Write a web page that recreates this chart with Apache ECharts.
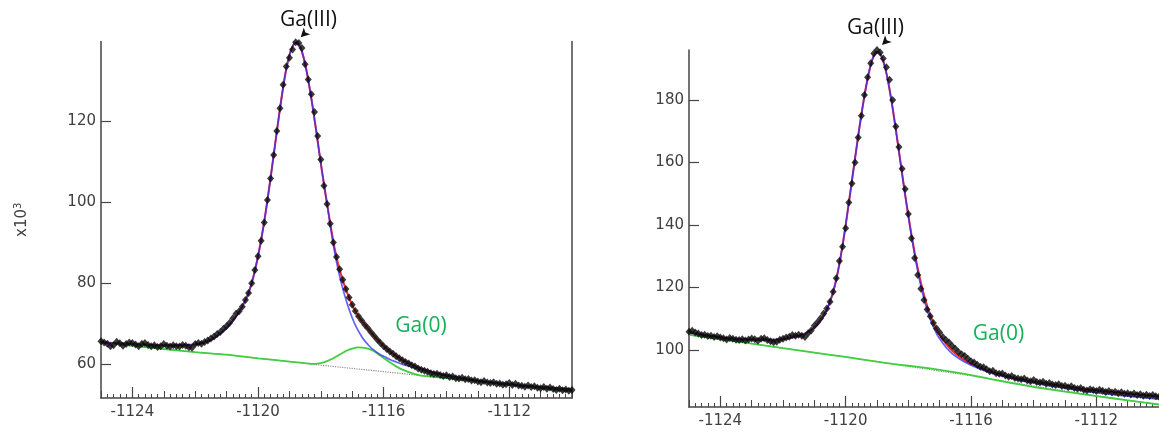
<!DOCTYPE html>
<html>
<head>
<meta charset="utf-8">
<title>Ga 2p3/2 XPS</title>
<script src="https://cdn.jsdelivr.net/npm/echarts@6/dist/echarts.min.js"></script>
<style>
  html, body { margin: 0; padding: 0; background: #fff; }
  #chart { width: 1159px; height: 434px; }
</style>
</head>
<body>
<div id="chart"></div>
<script>
// Binding-energy sampling of the measured spectra (eV)
const energyStart = -1125;
const energyStep = 0.1;

// Axis ticks and ranges
const energyLabels = [-1124, -1120, -1116, -1112];
const leftYTicks = [60, 80, 100, 120];
const rightYTicks = [100, 120, 140, 160, 180];

// ---- Left panel: measured counts (x10^3), one per 0.1 eV step ----
const leftCounts = [
  65.6, 65.3, 65.0, 64.4, 64.6, 65.5, 65.1, 64.5, 64.9, 65.3,
  65.2, 64.8, 64.4, 65.0, 65.2, 64.7, 64.4, 64.6, 64.2, 64.4,
  64.9, 64.5, 64.3, 64.6, 64.4, 64.3, 64.7, 64.5, 64.1, 64.0,
  64.9, 65.2, 65.0, 65.4, 65.8, 66.3, 66.8, 67.4, 67.9, 68.7,
  69.4, 70.2, 71.3, 72.4, 73.0, 74.1, 75.8, 77.5, 79.9, 83.2,
  86.6, 90.4, 94.9, 100.5, 105.8, 111.6, 117.5, 123.1, 128.9, 133.4,
  135.6, 137.6, 139.4, 139.2, 138.0, 134.0, 130.2, 126.6, 122.2, 116.3,
  110.5, 104.0, 99.5, 94.6, 90.0, 86.4, 83.4, 80.8, 78.5, 76.4,
  74.6, 73.1, 71.8, 70.7, 69.7, 68.8, 67.8, 66.9, 66.0, 65.2,
  64.4, 63.7, 63.1, 62.5, 61.9, 61.4, 60.9, 60.5, 60.1, 59.7,
  59.4, 58.9, 58.6, 58.3, 58.1, 57.7, 57.5, 57.6, 57.3, 57.0,
  57.2, 56.8, 56.9, 56.5, 56.4, 56.6, 56.2, 56.3, 55.9, 56.0,
  55.7, 55.5, 55.8, 55.4, 55.3, 55.5, 55.1, 55.2, 54.9, 55.0,
  55.3, 54.8, 55.1, 54.7, 54.6, 54.4, 54.7, 54.3, 54.5, 54.1,
  54.0, 54.3, 53.9, 54.2, 53.8, 53.6, 53.9, 53.5, 53.7, 53.4,
  53.6
];

// Fit shared by the envelope and the Ga(III) component up to the main peak
const leftFitShared = [
  [-1125, 65.4], [-1124.5, 65.1], [-1124, 64.9], [-1123.5, 64.7], [-1123, 64.6],
  [-1122.5, 64.6], [-1122, 64.8], [-1121.8, 65.1], [-1121.6, 65.6], [-1121.4, 66.4],
  [-1121.2, 67.5], [-1121.0, 68.9], [-1120.8, 70.7], [-1120.6, 72.9], [-1120.4, 75.7],
  [-1120.3, 77.6], [-1120.2, 80.0], [-1120.1, 83.0], [-1120.0, 86.6], [-1119.9, 90.6],
  [-1119.8, 95.2], [-1119.7, 100.4], [-1119.6, 105.9], [-1119.5, 111.6], [-1119.4, 117.4],
  [-1119.3, 123.0], [-1119.2, 128.3], [-1119.1, 132.8], [-1119.0, 136.2], [-1118.9, 138.4],
  [-1118.8, 139.3], [-1118.7, 138.9], [-1118.6, 137.1], [-1118.5, 134.1], [-1118.4, 130.1],
  [-1118.3, 125.5], [-1118.2, 120.4], [-1118.1, 115.0], [-1118.0, 109.6], [-1117.9, 104.4],
  [-1117.8, 99.5]
];
// Envelope (sum of components) on the high-energy side
const leftEnvelopeTail = [
  [-1117.7, 94.7], [-1117.6, 90.2], [-1117.5, 86.4], [-1117.4, 83.3], [-1117.3, 80.7],
  [-1117.2, 78.4], [-1117.1, 76.4], [-1117.0, 74.6], [-1116.9, 73.1], [-1116.8, 71.8],
  [-1116.7, 70.7], [-1116.6, 69.7], [-1116.5, 68.7], [-1116.4, 67.8], [-1116.3, 66.9],
  [-1116.2, 66.0], [-1116.1, 65.2], [-1116.0, 64.5], [-1115.8, 63.1], [-1115.6, 62.0],
  [-1115.4, 61.0], [-1115.2, 60.2], [-1115.0, 59.5], [-1114.8, 58.9], [-1114.6, 58.4],
  [-1114.4, 57.9], [-1114.2, 57.5], [-1114.0, 57.2], [-1113.5, 56.5], [-1113.0, 55.9],
  [-1112.5, 55.4], [-1112.0, 55.0], [-1111.5, 54.6], [-1111.0, 54.3], [-1110.5, 54.0],
  [-1110.0, 53.7]
];
// Ga(III) component on the high-energy side
const leftGa3Tail = [
  [-1117.7, 94.3], [-1117.6, 89.4], [-1117.5, 85.2], [-1117.4, 81.7], [-1117.3, 78.6],
  [-1117.2, 75.9], [-1117.1, 73.5], [-1117.0, 71.4], [-1116.9, 69.6], [-1116.8, 68.1],
  [-1116.7, 66.8], [-1116.6, 65.7], [-1116.5, 64.8], [-1116.4, 64.0], [-1116.3, 63.4],
  [-1116.2, 62.8], [-1116.1, 62.3], [-1116.0, 61.9], [-1115.8, 61.1], [-1115.6, 60.5],
  [-1115.4, 59.9], [-1115.2, 59.5], [-1115.0, 59.1], [-1114.8, 58.7], [-1114.6, 58.3],
  [-1114.4, 57.9], [-1114.2, 57.5], [-1114.0, 57.2], [-1113.5, 56.5], [-1113.0, 55.9],
  [-1112.5, 55.4], [-1112.0, 55.0], [-1111.5, 54.6], [-1111.0, 54.3], [-1110.5, 54.0],
  [-1110.0, 53.7]
];
// Ga(0) component on top of the background
const leftGa0 = [
  [-1125, 65.3], [-1124, 64.5], [-1123, 63.7], [-1122, 62.9], [-1121, 62.3],
  [-1120, 61.4], [-1119, 60.6], [-1118.5, 60.2], [-1118.2, 60.0], [-1118.0, 60.2],
  [-1117.8, 60.7], [-1117.6, 61.4], [-1117.4, 62.3], [-1117.2, 63.2], [-1117.0, 63.8],
  [-1116.8, 64.1], [-1116.6, 64.0], [-1116.4, 63.5], [-1116.2, 62.6], [-1116.0, 61.5],
  [-1115.8, 60.4], [-1115.6, 59.4], [-1115.4, 58.6], [-1115.2, 58.0], [-1115.0, 57.5],
  [-1114.8, 57.1], [-1114.5, 56.9], [-1114, 56.5], [-1113, 55.7], [-1112, 54.8],
  [-1111, 54.0], [-1110, 53.2]
];
// Background
const leftBackground = [
  [-1125, 65.3], [-1124, 64.5], [-1123, 63.7], [-1122, 62.9], [-1121, 62.3],
  [-1120, 61.4], [-1119, 60.6], [-1118, 59.7], [-1117, 58.9], [-1116, 58.1],
  [-1115, 57.3], [-1114, 56.5], [-1113, 55.7], [-1112, 54.8], [-1111, 54.0],
  [-1110, 53.2]
];

// ---- Right panel: measured counts, one per 0.1 eV step ----
const rightCounts = [
  105.9, 106.2, 105.6, 105.3, 104.8, 104.9, 104.5, 104.6, 104.2, 104.4,
  104.0, 103.8, 103.4, 103.9, 103.6, 103.3, 103.2, 103.5, 103.1, 103.4,
  103.7, 103.5, 103.0, 103.6, 103.8, 103.2, 102.8, 102.5, 102.7, 103.3,
  103.6, 104.0, 104.3, 104.8, 104.6, 104.9, 104.6, 104.2, 105.4, 106.3,
  107.8, 108.9, 110.2, 111.7, 113.3, 115.5, 118.7, 123.0, 128.5, 133.1,
  139.0, 147.2, 153.3, 160.0, 168.0, 175.0, 181.6, 187.3, 191.8, 194.9,
  196.0, 195.2, 193.3, 190.5, 186.5, 180.0, 171.5, 165.0, 158.0, 151.5,
  143.5, 135.8, 129.5, 124.0, 119.6, 116.0, 113.0, 110.8, 108.7, 106.9,
  105.6, 104.2, 103.2, 102.4, 101.3, 100.4, 99.4, 98.7, 98.1, 97.2,
  96.4, 96.0, 95.3, 94.7, 94.5, 93.9, 93.2, 93.4, 92.6, 92.4,
  92.5, 91.9, 91.5, 91.7, 91.1, 90.9, 90.7, 90.9, 90.3, 90.0,
  90.4, 89.8, 89.6, 89.9, 89.2, 89.5, 89.0, 88.8, 89.1, 88.5,
  88.6, 88.1, 88.4, 87.9, 87.6, 87.9, 87.3, 87.1, 87.5, 87.2,
  86.9, 87.3, 87.0, 86.6, 86.9, 86.4, 86.7, 86.2, 86.5, 86.0,
  86.2, 85.8, 86.1, 85.6, 85.9, 85.4, 85.7, 85.3, 85.6, 85.2,
  85.1
];

const rightFitShared = [
  [-1125, 105.6], [-1124.5, 104.8], [-1124, 104.1], [-1123.5, 103.6], [-1123, 103.4],
  [-1122.5, 103.3], [-1122, 103.5], [-1121.7, 104.0], [-1121.5, 104.5], [-1121.3, 105.3],
  [-1121.1, 106.4], [-1121.0, 107.2], [-1120.9, 108.2], [-1120.8, 109.5], [-1120.7, 111.0],
  [-1120.6, 113.0], [-1120.5, 115.5], [-1120.4, 118.6], [-1120.3, 122.6], [-1120.2, 127.6],
  [-1120.1, 133.4], [-1120.0, 140.0], [-1119.9, 147.0], [-1119.8, 154.2], [-1119.7, 161.4],
  [-1119.6, 168.5], [-1119.5, 175.2], [-1119.4, 181.4], [-1119.3, 186.8], [-1119.2, 191.2],
  [-1119.1, 194.2], [-1119.0, 195.4], [-1118.9, 194.8], [-1118.8, 192.5], [-1118.7, 188.6],
  [-1118.6, 183.4], [-1118.5, 177.3], [-1118.4, 170.6], [-1118.3, 163.6], [-1118.2, 156.5],
  [-1118.1, 149.6], [-1118.0, 143.0]
];
const rightEnvelopeTail = [
  [-1117.9, 136.9], [-1117.8, 131.3], [-1117.7, 126.2], [-1117.6, 121.6], [-1117.5, 117.6],
  [-1117.4, 114.2], [-1117.3, 111.3], [-1117.2, 108.8], [-1117.1, 106.7], [-1117.0, 104.9],
  [-1116.8, 102.0], [-1116.6, 99.8], [-1116.4, 98.1], [-1116.2, 96.7], [-1116.0, 95.6],
  [-1115.5, 93.5], [-1115.0, 92.0], [-1114.5, 90.8], [-1114.0, 89.9], [-1113.5, 89.1],
  [-1113.0, 88.4], [-1112.5, 87.7], [-1112.0, 87.1], [-1111.5, 86.6], [-1111.0, 86.1],
  [-1110.5, 85.6], [-1110.0, 85.2]
];
const rightGa3Tail = [
  [-1117.9, 136.5], [-1117.8, 130.6], [-1117.7, 125.3], [-1117.6, 120.5], [-1117.5, 116.4],
  [-1117.4, 112.9], [-1117.3, 109.9], [-1117.2, 107.4], [-1117.1, 105.3], [-1117.0, 103.6],
  [-1116.8, 100.9], [-1116.6, 98.9], [-1116.4, 97.4], [-1116.2, 96.2], [-1116.0, 95.2],
  [-1115.5, 93.2], [-1115.0, 91.7], [-1114.5, 90.5], [-1114.0, 89.5], [-1113.5, 88.6],
  [-1113.0, 87.8], [-1112.5, 87.1], [-1112.0, 86.4], [-1111.5, 85.8], [-1111.0, 85.3],
  [-1110.5, 84.8], [-1110.0, 84.3]
];
const rightGa0 = [
  [-1125, 104.9], [-1124, 103.5], [-1123, 102.1], [-1122, 100.6], [-1121, 99.2],
  [-1120, 97.8], [-1119, 96.3], [-1118.5, 95.6], [-1118, 95.0], [-1117.5, 94.4],
  [-1117, 93.7], [-1116.5, 92.9], [-1116, 92.0], [-1115.5, 91.0], [-1115, 90.0],
  [-1114.5, 89.1], [-1114, 88.2], [-1113, 86.7], [-1112, 85.3], [-1111, 83.9],
  [-1110, 82.6]
];
const rightBackground = [
  [-1125, 104.9], [-1124, 103.5], [-1123, 102.1], [-1122, 100.6], [-1121, 99.2],
  [-1120, 97.8], [-1119, 96.3], [-1118, 94.8], [-1117, 93.3], [-1116, 91.8],
  [-1115, 90.2], [-1114, 88.5], [-1113, 86.9], [-1112, 85.4], [-1111, 84.0],
  [-1110, 82.6]
];

// Pair each count with its binding energy
function withEnergy(counts) {
  return counts.map((v, i) => [+(energyStart + i * energyStep).toFixed(1), v]);
}

const axisColor = '#454545';
const tickFont = { fontFamily: 'DejaVu Sans', fontSize: 15, color: '#404040' };
const plainNumber = (v) => String(v);

function energyAxes(gridIndex) {
  return [
    {
      gridIndex, type: 'value', min: -1125, max: -1110, interval: 1,
      axisLine: { show: true, onZero: false, lineStyle: { color: axisColor, width: 1.5 } },
      axisTick: { show: true, inside: true, length: 7, lineStyle: { color: axisColor, width: 1 } },
      minorTick: { show: true, splitNumber: 5, length: 4, lineStyle: { color: axisColor, width: 1 } },
      axisLabel: { show: false },
      splitLine: { show: false }, minorSplitLine: { show: false }
    },
    {
      gridIndex, type: 'value', min: -1125, max: -1110, position: 'bottom',
      axisLine: { show: false, onZero: false },
      axisTick: { show: true, inside: true, length: 11, customValues: energyLabels,
                  lineStyle: { color: axisColor, width: 1.2 } },
      axisLabel: { show: true, customValues: energyLabels, margin: 7, formatter: plainNumber, ...tickFont },
      splitLine: { show: false }
    }
  ];
}

function countAxis(gridIndex, min, max, ticks, extra) {
  return Object.assign({
    gridIndex, type: 'value', min, max, position: 'left',
    axisLine: { show: true, onZero: false, lineStyle: { color: axisColor, width: 1.5 } },
    axisTick: { show: true, inside: true, length: 10, customValues: ticks,
                lineStyle: { color: axisColor, width: 1.2 } },
    axisLabel: { show: true, customValues: ticks, margin: 5, formatter: plainNumber, ...tickFont },
    splitLine: { show: false }
  }, extra || {});
}

function panelSeries(xi, yi, counts, shared, envTail, ga3Tail, ga0, bg, peak) {
  return [
    { type: 'line', xAxisIndex: xi, yAxisIndex: yi, data: bg, showSymbol: false, z: 2,
      lineStyle: { color: '#8a8a8a', width: 1.2, type: 'dotted' }, silent: true },
    { type: 'line', xAxisIndex: xi, yAxisIndex: yi, data: ga0, showSymbol: false, z: 3, smooth: 0.2,
      lineStyle: { color: '#3fcf3f', width: 1.8 }, silent: true },
    { type: 'line', xAxisIndex: xi, yAxisIndex: yi, data: shared.concat(envTail), showSymbol: false, z: 4, smooth: 0.2,
      lineStyle: { color: '#ff2a2a', width: 2 }, silent: true },
    { type: 'line', xAxisIndex: xi, yAxisIndex: yi, data: shared.concat(ga3Tail), showSymbol: false, z: 5, smooth: 0.2,
      lineStyle: { color: '#2d2dff', width: 1.7, opacity: 0.75 }, silent: true },
    { type: 'scatter', xAxisIndex: xi, yAxisIndex: yi, data: withEnergy(counts), z: 6,
      symbol: 'diamond', symbolSize: [7, 8], itemStyle: { color: '#0a0a0a' }, silent: true,
      markPoint: {
        silent: true,
        data: [{ coord: peak, symbol: 'arrow', symbolSize: [7, 9], symbolRotate: 135,
                 symbolOffset: [5, -5], itemStyle: { color: '#111' }, label: { show: false } }]
      }
    }
  ];
}

const chart = echarts.init(document.getElementById('chart'), null, { renderer: 'canvas' });
chart.setOption({
  animation: false,
  backgroundColor: '#ffffff',
  grid: [
    { left: 101, top: 41.5, width: 471, height: 356.5 },
    { left: 689, top: 50, width: 471, height: 357 }
  ],
  xAxis: [].concat(energyAxes(0), energyAxes(1)),
  yAxis: [
    countAxis(0, 51.6, 139.6, leftYTicks, {
      name: 'x10{s|3}', nameLocation: 'middle', nameRotate: 90, nameGap: 70,
      nameTextStyle: { fontFamily: 'DejaVu Sans', fontSize: 15, color: '#404040',
        rich: { s: { fontFamily: 'DejaVu Sans', fontSize: 10, color: '#404040', padding: [0, 0, 8, 0] } } }
    }),
    countAxis(1, 81.8, 196, rightYTicks),
    {
      gridIndex: 0, type: 'value', min: 51.6, max: 139.6, position: 'right',
      axisLine: { show: true, onZero: false, lineStyle: { color: axisColor, width: 1.5 } },
      axisTick: { show: false }, axisLabel: { show: false }, splitLine: { show: false }
    }
  ],
  graphic: [
    { type: 'text', style: { text: 'Ga(III)', x: 308.5, y: 20, textAlign: 'center', textVerticalAlign: 'middle',
      font: '21px "Open Sans"', fill: '#111' } },
    { type: 'text', style: { text: 'Ga(III)', x: 875.5, y: 28, textAlign: 'center', textVerticalAlign: 'middle',
      font: '21px "Open Sans"', fill: '#111' } },
    { type: 'text', style: { text: 'Ga(0)', x: 421, y: 326.5, textAlign: 'center', textVerticalAlign: 'middle',
      font: '21px "Open Sans"', fill: '#14b15a' } },
    { type: 'text', style: { text: 'Ga(0)', x: 998.5, y: 334, textAlign: 'center', textVerticalAlign: 'middle',
      font: '21px "Open Sans"', fill: '#14b15a' } }
  ],
  series: [].concat(
    panelSeries(0, 0, leftCounts, leftFitShared, leftEnvelopeTail, leftGa3Tail, leftGa0, leftBackground, [-1118.8, 139.4]),
    panelSeries(2, 1, rightCounts, rightFitShared, rightEnvelopeTail, rightGa3Tail, rightGa0, rightBackground, [-1119.0, 196.0])
  )
});
</script>
</body>
</html>
